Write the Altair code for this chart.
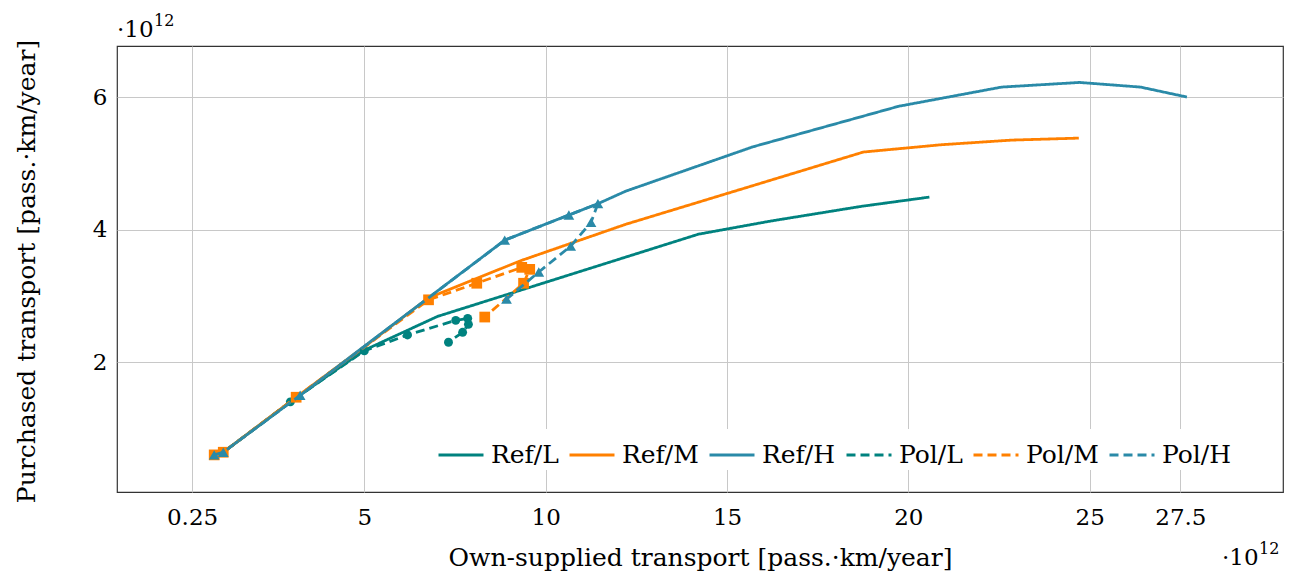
import altair as alt
import pandas as pd

series_names = ["Ref/L", "Ref/M", "Ref/H", "Pol/L", "Pol/M", "Pol/H"]
series_colors = ["#00827f", "#ff8000", "#2a8aa8", "#00827f", "#ff8000", "#2a8aa8"]
series_dashes = [[1, 0], [1, 0], [1, 0], [9, 5], [9, 5], [9, 5]]

# values in units of 10^12 pass.km/year
ref_l_x = [0.86, 1.11, 2.96, 5.00, 7.02, 14.21, 16.22, 18.70, 20.58]
ref_l_y = [0.60, 0.64, 1.40, 2.18, 2.69, 3.93, 4.13, 4.35, 4.49]

ref_m_x = [0.86, 1.11, 3.12, 5.00, 6.77, 9.31, 12.21, 18.76, 20.91, 22.85, 24.70]
ref_m_y = [0.60, 0.64, 1.47, 2.23, 2.97, 3.53, 4.08, 5.17, 5.28, 5.35, 5.38]

ref_h_x = [0.86, 1.11, 3.23, 5.00, 8.87, 10.64, 11.44, 12.21, 15.72, 19.73, 22.57, 24.72, 26.40, 27.68]
ref_h_y = [0.60, 0.64, 1.50, 2.24, 3.84, 4.22, 4.39, 4.58, 5.25, 5.86, 6.15, 6.22, 6.15, 6.00]

pol_l_x = [0.86, 1.11, 2.96, 5.00, 6.19, 7.52, 7.85, 7.87, 7.71, 7.32]
pol_l_y = [0.60, 0.64, 1.40, 2.17, 2.41, 2.63, 2.66, 2.57, 2.45, 2.30]

pol_m_x = [0.86, 1.11, 3.12, 6.77, 8.10, 9.34, 9.56, 9.39, 8.32]
pol_m_y = [0.60, 0.64, 1.47, 2.94, 3.19, 3.43, 3.40, 3.19, 2.68]

pol_h_x = [0.86, 1.11, 3.23, 8.87, 10.64, 11.44, 11.25, 10.69, 9.81, 8.92]
pol_h_y = [0.60, 0.64, 1.50, 3.84, 4.22, 4.39, 4.11, 3.75, 3.36, 2.95]

x_ticks = [0.25, 5, 10, 15, 20, 25, 27.5]
y_ticks = [2, 4, 6]

all_xy = {
    "Ref/L": (ref_l_x, ref_l_y),
    "Ref/M": (ref_m_x, ref_m_y),
    "Ref/H": (ref_h_x, ref_h_y),
    "Pol/L": (pol_l_x, pol_l_y),
    "Pol/M": (pol_m_x, pol_m_y),
    "Pol/H": (pol_h_x, pol_h_y),
}

rows = []
for name in series_names:
    xs, ys = all_xy[name]
    for i, (xv, yv) in enumerate(zip(xs, ys)):
        rows.append({"series": name, "i": i, "x": xv, "y": yv})
df = pd.DataFrame(rows)

FONT = "DejaVu Serif"

x_enc = alt.X(
    "x:Q",
    scale=alt.Scale(domain=[-1.82, 30.33], nice=False, zero=False),
    axis=alt.Axis(
        values=x_ticks, labelExpr="datum.value + ''",
        title="Own-supplied transport [pass.·km/year]",
        labelPadding=14, titleY=73, titleBaseline="alphabetic",
    ),
)
y_enc = alt.Y(
    "y:Q",
    scale=alt.Scale(domain=[0.04, 6.77], nice=False, zero=False),
    axis=alt.Axis(
        values=y_ticks, labelExpr="datum.value + ''",
        title="Purchased transport [pass.·km/year]",
        labelPadding=10, titleX=-78, titleY=225, titleAngle=270, titleBaseline="bottom",
    ),
)
legend_def = alt.Legend(
    orient="none", legendX=318, legendY=383, direction="horizontal", title=None,
    symbolType="stroke", symbolSize=2025, symbolStrokeWidth=3,
    labelFont=FONT, labelFontSize=25, labelColor="black", labelOffset=6,
    columnPadding=4, fillColor="white", padding=2,
)
color_enc = alt.Color(
    "series:N",
    scale=alt.Scale(domain=series_names, range=series_colors),
    legend=legend_def,
)
dash_enc = alt.StrokeDash(
    "series:N",
    scale=alt.Scale(domain=series_names, range=series_dashes),
    legend=legend_def,
)

base = alt.Chart(df)

marker_shapes = {"Pol/L": ("circle", 80), "Pol/M": ("square", 115), "Pol/H": ("triangle-up", 115)}

layers = []
for name, col in zip(series_names, series_colors):
    sub = base.transform_filter(alt.datum.series == name)
    layers.append(
        sub.mark_line(strokeWidth=2.8).encode(
            x=x_enc, y=y_enc, color=color_enc, strokeDash=dash_enc,
            order=alt.Order("i:Q"),
        )
    )
    if name in marker_shapes:
        shp, sz = marker_shapes[name]
        layers.append(
            sub.mark_point(filled=True, shape=shp, size=sz, color=col, opacity=1).encode(
                x="x:Q", y="y:Q"
            )
        )

annot = pd.DataFrame({"t": ["·10"]})
sup = pd.DataFrame({"t": ["12"]})
layers += [
    alt.Chart(annot).mark_text(font=FONT, fontSize=23, align="left", baseline="alphabetic", color="black")
    .encode(text="t:N", x=alt.value(0), y=alt.value(-9)),
    alt.Chart(sup).mark_text(font=FONT, fontSize=16, align="left", baseline="alphabetic", color="black")
    .encode(text="t:N", x=alt.value(37), y=alt.value(-20)),
    alt.Chart(annot).mark_text(font=FONT, fontSize=23, align="left", baseline="alphabetic", color="black")
    .encode(text="t:N", x=alt.value(1105), y=alt.value(519)),
    alt.Chart(sup).mark_text(font=FONT, fontSize=16, align="left", baseline="alphabetic", color="black")
    .encode(text="t:N", x=alt.value(1142), y=alt.value(508)),
]

chart = (
    alt.layer(*layers)
    .properties(
        width=1166, height=446,
        autosize=alt.AutoSizeParams(type="none"),
        padding={"left": 117, "top": 46, "right": 15, "bottom": 82},
    )
    .configure_view(stroke="#333333", strokeWidth=1.2)
    .configure_axis(
        grid=True, gridColor="#c8c8c8", gridWidth=1, domain=False, ticks=False,
        labelFont=FONT, labelFontSize=23, labelColor="black",
        titleFont=FONT, titleFontSize=25, titleFontWeight="normal", titleColor="black",
    )
)

chart.save("out.html", embed_options={"renderer": "svg", "actions": False})
